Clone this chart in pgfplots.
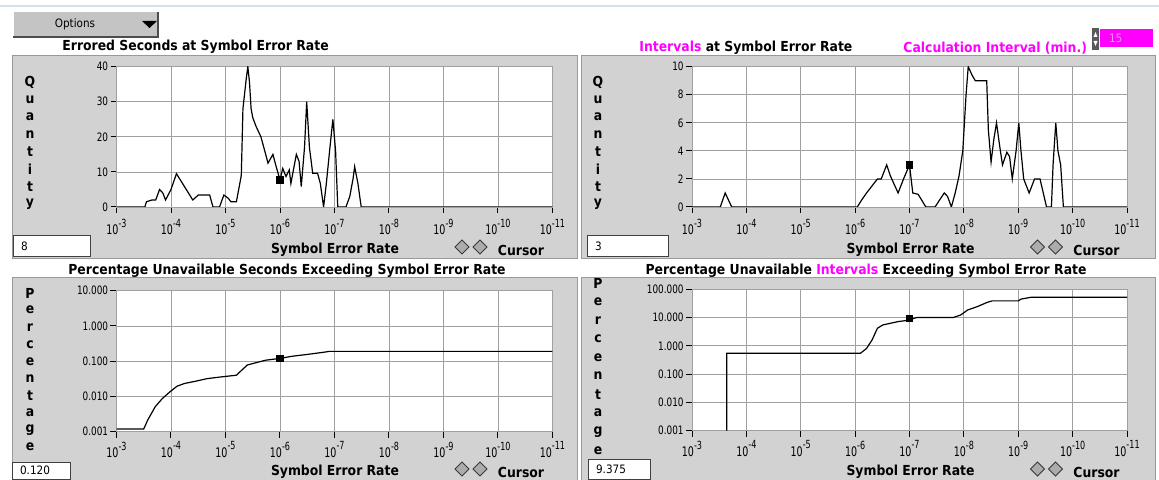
\documentclass[border=0pt]{standalone}
\usepackage{pgfplots}
\pgfplotsset{compat=1.18}
\usepackage{fontspec}
\setmainfont{DejaVu Sans Condensed}
\definecolor{panel}{RGB}{210,210,210}
\definecolor{btn}{RGB}{196,196,196}
\definecolor{spin}{RGB}{90,90,90}
\definecolor{gridc}{RGB}{160,160,160}
\definecolor{mag}{RGB}{255,0,255}
\definecolor{topline}{RGB}{215,224,232}
\newcommand\tf{\fontsize{6.9}{7.5}\selectfont\bfseries}
\newcommand\lf{\fontsize{5.8}{6.2}\selectfont}
\newcommand\xf{\fontsize{6.6}{7}\selectfont}
\newcommand\yl[1]{\scalebox{0.85}[1]{#1}}
\newcommand\ex[1]{\scalebox{0.8}[1]{10\raisebox{0.55em}{\fontsize{5.6}{6}\selectfont -#1}}}
\pgfplotsset{
  lab/.style={
    scale only axis, anchor=south west,
    xmin=3, xmax=11, xtick={3,...,11},
    xticklabels={{\ex{3}},{\ex{4}},{\ex{5}},{\ex{6}},{\ex{7}},{\ex{8}},{\ex{9}},{\ex{10}},{\ex{11}}},
    grid=major, major grid style={gridc, line width=0.4pt},
    axis line style={gridc, line width=0.4pt},
    tick align=outside, major tick length=3pt, tick pos=left,
    tick style={black, line width=0.5pt},
    yticklabel style={font=\lf, inner sep=1pt},
    xticklabel style={font=\xf, anchor=north, inner sep=0.5pt, yshift=-2.3pt},
    axis background/.style={fill=white},
  },
  dat/.style={black, line width=0.6pt, mark=none},
  cur/.style={only marks, mark=square*, mark size=1.6pt, black},
}
\begin{document}
\begin{tikzpicture}[x=0.5pt,y=-0.5pt]
\useasboundingbox (0,0) rectangle (1159,480);
\fill[white] (0,0) rectangle (1159,480);
\draw[topline, line width=0.8pt] (0,6) -- (1159,6);
% Options button
\fill[btn] (13,12) rectangle (158,37);
\draw[white, line width=0.5pt] (13,37) -- (13,12) -- (158,12);
\draw[gray!60!black, line width=0.6pt] (13,37) -- (158,37) -- (158,12);
\node[font=\lf] at (75,24) {Options};
\fill[black] (142,21) -- (157,21) -- (149.5,28) -- cycle;
% panels
\fill[panel] (12,55) rectangle (577,258);
\fill[panel] (581,55) rectangle (1155,258);
\fill[panel] (12,277) rectangle (577,480);
\fill[panel] (581,277) rectangle (1155,480);
\draw[gray!80, line width=0.4pt] (12,55) rectangle (577,258);
\draw[gray!80, line width=0.4pt] (581,55) rectangle (1155,258);
\draw[gray!80, line width=0.4pt] (12,277) rectangle (577,480);
\draw[gray!80, line width=0.4pt] (581,277) rectangle (1155,480);
% titles
\node[font=\tf, anchor=west, inner sep=0pt] at (62,47) {Errored Seconds at Symbol Error Rate};
\node[font=\tf, anchor=west, inner sep=0pt] at (639,48) {\textcolor{mag}{Intervals} at Symbol Error Rate};
\node[font=\tf, anchor=west, text=mag, inner sep=0pt] at (903,48) {Calculation Interval (min.)};
\node[font=\tf, inner sep=0pt] at (287,271) {Percentage Unavailable Seconds Exceeding Symbol Error Rate};
\node[font=\tf, inner sep=0pt] at (866,271) {Percentage Unavailable \textcolor{mag}{Intervals} Exceeding Symbol Error Rate};
% calc interval control
\fill[spin] (1092,28) rectangle (1099,50);
\fill[white] (1093.5,37) -- (1097.5,37) -- (1095.5,32) -- cycle;
\fill[white] (1093.5,41) -- (1097.5,41) -- (1095.5,46) -- cycle;
\fill[mag] (1100,29) rectangle (1153,47);
\node[font=\lf, text=mag!45!white, anchor=west] at (1102,38) {15};
% vertical axis titles
\foreach \c [count=\i from 0] in {Q,u,a,n,t,i,t,y} {
  \node[font=\tf] at (30,{82+\i*17.4}) {\c};
  \node[font=\tf] at (598,{82+\i*17.4}) {\c};
}
\foreach \c [count=\i from 0] in {P,e,r,c,e,n,t,a,g,e} {
  \node[font=\tf] at (30,{293+\i*17.1}) {\c};
  \node[font=\tf] at (598,{283+\i*18.6}) {\c};
}
% value boxes
\draw[fill=white, draw=gray!50!black, line width=0.5pt] (13,236) rectangle (90,257);
\node[font=\lf, anchor=west] at (14,246.5) {8};
\draw[fill=white, draw=gray!50!black, line width=0.5pt] (587,236) rectangle (668,257);
\node[font=\lf, anchor=west] at (588,246.5) {3};
\draw[fill=white, draw=gray!50!black, line width=0.5pt] (12,462) rectangle (70,479);
\node[font=\lf, anchor=west] at (13,470.5) {0.120};
\draw[fill=white, draw=gray!50!black, line width=0.5pt] (588,459) rectangle (650,479);
\node[font=\lf, anchor=west] at (589,469) {9.375};
% x labels and cursor legends
\foreach \xo/\yo in {0/250, 575.5/250, 0/472, 575.5/472} {
  \node[font=\tf, inner sep=1pt] at ({335+\xo},\yo) {Symbol Error Rate};
  \filldraw[fill=gray!65, draw=gray!45!black, line width=0.4pt] ({455+\xo},\yo-3) -- ({462+\xo},\yo-10) -- ({469+\xo},\yo-3) -- ({462+\xo},\yo+4) -- cycle;
  \filldraw[fill=gray!65, draw=gray!45!black, line width=0.4pt] ({473+\xo},\yo-3) -- ({480+\xo},\yo-10) -- ({487+\xo},\yo-3) -- ({480+\xo},\yo+4) -- cycle;
  \node[font=\tf, inner sep=1pt] at ({521+\xo},\yo) {Cursor};
}
% ---- top left
\begin{axis}[lab, at={(58.25pt,-103.5pt)}, width=218pt, height=70.15pt,
  ymin=0, ymax=40, ytick={0,10,20,30,40}, yticklabels={\yl{0},\yl{10},\yl{20},\yl{30},\yl{40}}]
\addplot[dat] coordinates {(3,0) (3.52,0) (3.55,1.5) (3.65,2) (3.72,2) (3.79,5) (3.85,4) (3.9,2) (4.0,5) (4.1,9.5) (4.2,7) (4.3,4.5) (4.4,2) (4.5,3.4) (4.71,3.4) (4.77,0) (4.89,0) (4.97,3.4) (5.05,2.5) (5.1,1.5) (5.2,1.5) (5.29,9) (5.32,28) (5.38,36.5) (5.41,40) (5.44,35.6) (5.47,28) (5.5,25.5) (5.56,23) (5.65,20) (5.72,16) (5.78,12.5) (5.87,15) (5.93,11.5) (6.0,7.7) (6.05,11) (6.11,8.7) (6.17,10.6) (6.2,6.7) (6.3,15) (6.35,13) (6.39,5.8) (6.45,17) (6.49,30) (6.54,17) (6.6,9.6) (6.69,9.6) (6.74,6.7) (6.8,0) (6.85,6.7) (6.91,16) (6.97,25) (7.02,16) (7.06,0) (7.21,0) (7.28,3) (7.34,8) (7.37,11.5) (7.43,6.7) (7.49,0) (11,0)};
\addplot[cur] coordinates {(6,7.7)};
\end{axis}
% ---- top right
\begin{axis}[lab, at={(346pt,-103.5pt)}, width=217.5pt, height=70.15pt,
  ymin=0, ymax=10, ytick={0,2,4,6,8,10}, yticklabels={\yl{0},\yl{2},\yl{4},\yl{6},\yl{8},\yl{10}}]
\addplot[dat] coordinates {(3,0) (3.52,0) (3.61,1) (3.73,0) (6.04,0) (6.12,0.5) (6.21,1) (6.31,1.5) (6.41,2) (6.48,2) (6.58,3) (6.65,2.2) (6.79,1) (6.89,2) (7.0,3) (7.06,1) (7.16,0.9) (7.3,0) (7.47,0) (7.57,0.6) (7.64,1) (7.7,0.75) (7.77,0) (7.84,1) (7.91,2.2) (7.98,4) (8.04,8) (8.08,10) (8.15,9.4) (8.21,9) (8.42,9) (8.45,5.5) (8.5,3.2) (8.55,4.8) (8.6,6) (8.66,4.3) (8.71,3) (8.79,3.9) (8.84,3.6) (8.89,2) (8.96,4) (9.01,6) (9.05,4) (9.1,2) (9.2,1) (9.3,2) (9.4,2) (9.52,0) (9.61,0) (9.64,3) (9.69,6) (9.73,4) (9.78,3) (9.83,0) (11,0)};
\addplot[cur] coordinates {(7,3)};
\end{axis}
% ---- bottom left
\begin{axis}[lab, at={(58.25pt,-215.85pt)}, width=218pt, height=70.5pt,
  ymode=log, ymin=0.001, ymax=10, yminorticks=false,
  xticklabel style={yshift=1pt},
  ytick={0.001,0.01,0.1,1,10}, yticklabels={\yl{0.001},\yl{0.010},\yl{0.100},\yl{1.000},\yl{10.000}}]
\addplot[dat] coordinates {(3,0.0012) (3.5,0.0012) (3.57,0.0021) (3.71,0.0051) (3.84,0.0087) (3.98,0.0135) (4.11,0.0195) (4.25,0.0234) (4.45,0.027) (4.66,0.032) (4.93,0.036) (5.2,0.040) (5.3,0.056) (5.4,0.078) (5.54,0.089) (5.74,0.107) (6.0,0.12) (6.22,0.138) (6.49,0.155) (6.83,0.182) (6.9,0.19) (11,0.19)};
\addplot[cur] coordinates {(6,0.12)};
\end{axis}
% ---- bottom right
\begin{axis}[lab, at={(346pt,-215.35pt)}, width=217.5pt, height=70.7pt,
  ymode=log, ymin=0.001, ymax=100, yminorticks=false,
  xticklabel style={yshift=1pt},
  ytick={0.001,0.01,0.1,1,10,100}, yticklabels={\yl{0.001},\yl{0.010},\yl{0.100},\yl{1.000},\yl{10.000},\yl{100.000}}]
\addplot[dat] coordinates {(3.64,0.001) (3.64,0.55) (6.1,0.55) (6.21,0.81) (6.31,1.6) (6.41,4.2) (6.51,5.5) (6.65,6.3) (6.79,7.2) (6.92,7.8) (7.02,8.7) (7.13,10) (7.8,10) (7.94,12.3) (8.07,18.6) (8.25,24.5) (8.42,34) (8.52,39) (9.0,39) (9.05,45) (9.23,52) (11,52)};
\addplot[cur] coordinates {(7,9.375)};
\end{axis}
\end{tikzpicture}
\end{document}
